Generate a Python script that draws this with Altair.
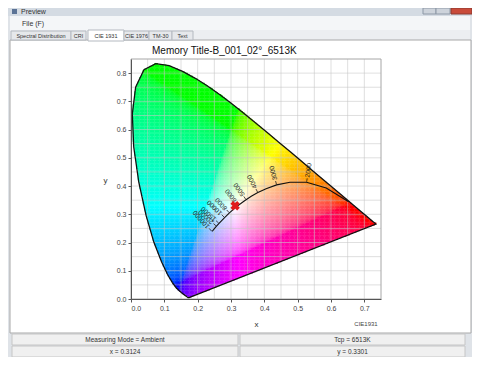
import math
import numpy as np
import pandas as pd
import altair as alt

# ---------------- text content ----------------
window_title = "Preview"
menu_label = "File (F)"
tab_names = ["Spectral Distribution", "CRI", "CIE 1931", "CIE 1976", "TM-30", "Text"]
selected_tab = "CIE 1931"
chart_title = "Memory Title-B_001_02°_6513K"
diagram_tag = "CIE1931"
status_texts = ["Measuring Mode = Ambient", "Tcp = 6513K", "x = 0.3124", "y = 0.3301"]

# ---------------- spectral locus (380..700 nm, 5 nm) ----------------
locus_x = [0.1741, 0.1740, 0.1738, 0.1736, 0.1733, 0.1730, 0.1726, 0.1721, 0.1714, 0.1703,
           0.1689, 0.1669, 0.1644, 0.1611, 0.1566, 0.1510, 0.1440, 0.1355, 0.1241, 0.1096,
           0.0913, 0.0687, 0.0454, 0.0235, 0.0082, 0.0039, 0.0139, 0.0389, 0.0743, 0.1142,
           0.1547, 0.1929, 0.2296, 0.2658, 0.3016, 0.3373, 0.3731, 0.4087, 0.4441, 0.4788,
           0.5125, 0.5448, 0.5752, 0.6029, 0.6270, 0.6482, 0.6658, 0.6801, 0.6915, 0.7006,
           0.7079, 0.7140, 0.7190, 0.7230, 0.7260, 0.7283, 0.7300, 0.7311, 0.7320, 0.7327,
           0.7334, 0.7340, 0.7344, 0.7346, 0.7347]
locus_y = [0.0050, 0.0050, 0.0049, 0.0049, 0.0048, 0.0048, 0.0048, 0.0048, 0.0051, 0.0058,
           0.0069, 0.0086, 0.0109, 0.0138, 0.0177, 0.0227, 0.0297, 0.0399, 0.0578, 0.0868,
           0.1327, 0.2007, 0.2950, 0.4127, 0.5384, 0.6548, 0.7502, 0.8120, 0.8338, 0.8262,
           0.8059, 0.7816, 0.7543, 0.7243, 0.6923, 0.6589, 0.6245, 0.5896, 0.5547, 0.5202,
           0.4866, 0.4544, 0.4242, 0.3965, 0.3725, 0.3514, 0.3340, 0.3197, 0.3083, 0.2993,
           0.2920, 0.2859, 0.2809, 0.2770, 0.2740, 0.2717, 0.2700, 0.2689, 0.2680, 0.2673,
           0.2666, 0.2660, 0.2656, 0.2654, 0.2653]

# ---------------- Planckian locus ----------------
planck_T = [1000, 1500, 2000, 2500, 3000, 3500, 4000, 4500, 5000, 5500, 6000, 6500, 7000,
            8000, 9000, 10000, 12000, 15000, 20000, 30000, 50000, 100000]
planck_x = [0.6528, 0.5857, 0.5267, 0.4770, 0.4369, 0.4053, 0.3805, 0.3608, 0.3451, 0.3325,
            0.3221, 0.3135, 0.3064, 0.2952, 0.2869, 0.2807, 0.2721, 0.2641, 0.2565, 0.2501,
            0.2460, 0.2425]
planck_y = [0.3444, 0.3931, 0.4133, 0.4137, 0.4041, 0.3907, 0.3768, 0.3636, 0.3516, 0.3411,
            0.3318, 0.3237, 0.3166, 0.3048, 0.2956, 0.2884, 0.2779, 0.2677, 0.2577, 0.2489,
            0.2432, 0.2395]
label_T = [2000, 3000, 4000, 5000, 6000, 8000, 10000, 15000, 20000, 100000]

# ---------------- measurement ----------------
meas_x = [0.3124]
meas_y = [0.3301]

# ---------------- axes ----------------
x_ticks = [0.0, 0.1, 0.2, 0.3, 0.4, 0.5, 0.6, 0.7]
y_ticks = [0.0, 0.1, 0.2, 0.3, 0.4, 0.5, 0.6, 0.7, 0.8]
x_grid = [0.05, 0.10, 0.15, 0.20, 0.25, 0.30, 0.35, 0.40, 0.45, 0.50, 0.55, 0.60, 0.65, 0.70]
y_grid = [0.05, 0.10, 0.15, 0.20, 0.25, 0.30, 0.35, 0.40, 0.45, 0.50, 0.55, 0.60, 0.65, 0.70,
          0.75, 0.80]
X_DOMAIN = [0, 0.75]
Y_DOMAIN = [0, 0.85]

# ---------------- layout ----------------
W, H = 250, 240
OX, OY = 131, 59           # page position of the plot origin
PAD = {"left": OX - 8, "top": OY - 8, "right": 464 - (OX - 8) - W, "bottom": 349 - (OY - 8) - H}
UI = "Liberation Sans"

xs = alt.Scale(domain=X_DOMAIN, nice=False, zero=False)
ys = alt.Scale(domain=Y_DOMAIN, nice=False, zero=False)
AX = alt.Axis(values=x_ticks, format=".1f", grid=False, labelFontSize=7, labelColor="#444",
              labelFont=UI, tickColor="#555", tickSize=3, domainColor="#555", labelPadding=2,
              title="x", titleFont=UI, titleFontSize=8, titleFontWeight="normal",
              titleColor="#333", titleX=W / 2, titleY=25, titleBaseline="middle", zindex=2)
AY = alt.Axis(values=y_ticks, format=".1f", grid=False, labelFontSize=7, labelColor="#444",
              labelFont=UI, tickColor="#555", tickSize=3, domainColor="#555", labelPadding=2,
              title="y", titleFont=UI, titleFontSize=8, titleFontWeight="normal",
              titleColor="#333", titleAngle=0, titleX=-26, titleY=121, titleAlign="center",
              titleBaseline="middle", zindex=2)
dummy = pd.DataFrame({"k": [0]})


def box(x0, y0, x1, y1, fill, stroke=None):
    kw = {"fill": fill}
    if stroke:
        kw.update(stroke=stroke, strokeWidth=1)
    else:
        kw.update(strokeWidth=0)
    return alt.Chart(dummy).mark_rect(**kw).encode(
        x=alt.value(x0 - OX), x2=alt.value(x1 - OX), y=alt.value(y0 - OY), y2=alt.value(y1 - OY))


def label(px, py, txt, size=7, color="#222", align="center", font=UI):
    return alt.Chart(dummy).mark_text(fontSize=size, color=color, align=align,
                                      baseline="middle", font=font).encode(
        x=alt.value(px - OX), y=alt.value(py - OY), text=alt.value(txt))


# ---------------- colour raster of the gamut ----------------
def inside(px, py, vx, vy):
    res = np.zeros(px.shape, bool)
    n = len(vx)
    j = n - 1
    for i in range(n):
        xi, yi, xj, yj = vx[i], vy[i], vx[j], vy[j]
        if yi != yj:
            cond = ((yi > py) != (yj > py)) & (px < (xj - xi) * (py - yi) / (yj - yi) + xi)
            res ^= cond
        j = i
    return res


step = 0.005
gx, gy = np.meshgrid(np.arange(0, 0.75, step), np.arange(0, 0.85, step))
cx, cy = gx + step / 2, gy + step / 2
m = inside(cx, cy, locus_x, locus_y)
cx, cy, gx, gy = cx[m], cy[m], gx[m], gy[m]
Xc = cx / cy
Zc = (1 - cx - cy) / cy
r = 3.2406 * Xc - 1.5372 - 0.4986 * Zc
g = -0.9689 * Xc + 1.8758 + 0.0415 * Zc
b = 0.0557 * Xc - 0.2040 + 1.0570 * Zc
rgb = np.clip(np.stack([r, g, b]), 0, None)
rgb = (rgb / rgb.max(axis=0)) ** 0.85
srgb = np.where(rgb <= 0.0031308, 12.92 * rgb, 1.055 * rgb ** (1 / 2.4) - 0.055)
srgb = np.clip(np.round(srgb * 255), 0, 255).astype(int)
cols = ["#%02x%02x%02x" % (a, bb, c) for a, bb, c in zip(srgb[0], srgb[1], srgb[2])]
raster = pd.DataFrame({"a": np.round(gx, 4), "b": np.round(gy, 4), "c": cols})

raster_layer = alt.Chart(raster).transform_calculate(
    a2=f"datum.a + {step * 1.2}", b2=f"datum.b + {step * 1.2}"
).mark_rect(strokeWidth=0).encode(
    x=alt.X("a:Q", scale=xs, axis=AX), x2="a2:Q",
    y=alt.Y("b:Q", scale=ys, axis=AY), y2="b2:Q",
    color=alt.Color("c:N", scale=None),
)

grid_v = alt.Chart(pd.DataFrame({"gx": x_grid})).mark_rule(
    color="#c4c4c4", opacity=0.55, strokeWidth=1).encode(x=alt.X("gx:Q", scale=xs, axis=AX))
grid_h = alt.Chart(pd.DataFrame({"gy": y_grid})).mark_rule(
    color="#c4c4c4", opacity=0.55, strokeWidth=1).encode(y=alt.Y("gy:Q", scale=ys, axis=AY))

frame = alt.Chart(dummy).mark_rect(fill="transparent", stroke="#a6a6a6", strokeWidth=1).encode(
    x=alt.value(0), x2=alt.value(W), y=alt.value(0), y2=alt.value(H))

outline = pd.DataFrame({"lx": locus_x + [locus_x[0]], "ly": locus_y + [locus_y[0]],
                        "i": list(range(len(locus_x) + 1))})
outline_layer = alt.Chart(outline).mark_line(color="#111", strokeWidth=1.3).encode(
    x=alt.X("lx:Q", scale=xs, axis=AX), y=alt.Y("ly:Q", scale=ys, axis=AY),
    order="i:Q")

planck = pd.DataFrame({"px": planck_x, "py": planck_y, "i": list(range(len(planck_x)))})
planck_layer = alt.Chart(planck).mark_line(color="#111", strokeWidth=1.1).encode(
    x=alt.X("px:Q", scale=xs, axis=AX), y=alt.Y("py:Q", scale=ys, axis=AY),
    order="i:Q")

# tick marks and labels perpendicular to the Planckian locus
sx = W / (X_DOMAIN[1] - X_DOMAIN[0])
sy = H / (Y_DOMAIN[1] - Y_DOMAIN[0])
rows = []
for T in label_T:
    i = planck_T.index(T)
    i0, i1 = max(i - 1, 0), min(i + 1, len(planck_T) - 1)
    tx = (planck_x[i1] - planck_x[i0]) * sx
    ty = -(planck_y[i1] - planck_y[i0]) * sy
    nx, ny = ty, -tx
    if ny > 0:
        nx, ny = -nx, -ny
    ln = math.hypot(nx, ny)
    nx, ny = nx / ln, ny / ln
    p0x, p0y = planck_x[i], planck_y[i]

    def off(d):
        return p0x + nx * d / sx, p0y - ny * d / sy
    t1 = off(0.5)
    t2 = off(4)
    lp = off(5)
    rows.append({"t1x": t1[0], "t1y": t1[1], "t2x": t2[0], "t2y": t2[1],
                 "lx": lp[0], "ly": lp[1], "txt": str(T),
                 "ang": math.degrees(math.atan2(ny, nx)) % 360})
lab = pd.DataFrame(rows)
tick_layer = alt.Chart(lab).mark_rule(color="#222", strokeWidth=0.8).encode(
    x=alt.X("t1x:Q", scale=xs, axis=AX), y=alt.Y("t1y:Q", scale=ys, axis=AY),
    x2="t2x:Q", y2="t2y:Q")
text_layer = alt.Chart(lab).mark_text(fontSize=6.5, color="#222", align="left",
                                      baseline="middle", font=UI).encode(
    x=alt.X("lx:Q", scale=xs, axis=AX), y=alt.Y("ly:Q", scale=ys, axis=AY),
    text="txt:N", angle=alt.Angle("ang:Q", scale=None))

marker = alt.Chart(pd.DataFrame({"mx": meas_x, "my": meas_y})).mark_point(
    shape="cross", angle=45, filled=True, size=90, color="#e0191b", opacity=1).encode(
    x=alt.X("mx:Q", scale=xs, axis=AX), y=alt.Y("my:Q", scale=ys, axis=AY))

# ---------------- window chrome ----------------
chrome = [
    box(8, 8, 472, 16, "#d4dbe3"),
    box(12, 9, 17, 14, "#5b7396"),
    label(21, 12, window_title, size=7, color="#333", align="left"),
    box(423, 8, 436, 14, "#cdd3db", "#8d98a6"),
    box(436, 8, 450, 14, "#cdd3db", "#8d98a6"),
    box(451, 8, 472, 14, "#c94b3a", "#8a3a30"),
    box(10, 16, 470, 30, "#f4f6f8"),
    label(22, 23.5, menu_label, size=7, color="#333", align="left"),
    box(10, 30, 470, 40, "#eceef1"),
    box(10, 40, 471, 333, "#ffffff", "#a8a8a8"),
]
tab_edges = [(11, 71), (71, 86), (88, 124), (124, 149), (149, 172), (172, 193)]
for name, (a0, a1) in zip(tab_names, tab_edges):
    sel = name == selected_tab
    chrome.append(box(a0, 30 if sel else 31, a1, 41 if sel else 40,
                      "#ffffff" if sel else "#e6e8eb", "#b4b9c0"))
    chrome.append(label((a0 + a1) / 2, 35.5, name, size=5.5, color="#333"))
status_boxes = [(12, 334, 238, 345), (240, 334, 465, 345), (12, 346, 238, 357), (240, 346, 465, 357)]
for txt, (a0, b0, a1, b1) in zip(status_texts, status_boxes):
    chrome.append(box(a0, b0, a1, b1, "#f0f0f0", "#c6c6c6"))
    chrome.append(label((a0 + a1) / 2, (b0 + b1) / 2, txt, size=6.5, color="#333"))

titles = [
    label(152, 51, chart_title, size=10, color="#111", align="left"),
    label(366, 324, diagram_tag, size=6, color="#444"),
]

chart = alt.layer(
    *chrome, raster_layer, grid_v, grid_h, frame, outline_layer, planck_layer, tick_layer,
    text_layer, marker, *titles
).properties(
    width=W, height=H, padding=PAD, autosize=alt.AutoSizeParams(type="none"),
    background="#dfe3e8",
).configure_view(stroke=None)

chart.save("out.html", embed_options={"renderer": "svg", "actions": False})
